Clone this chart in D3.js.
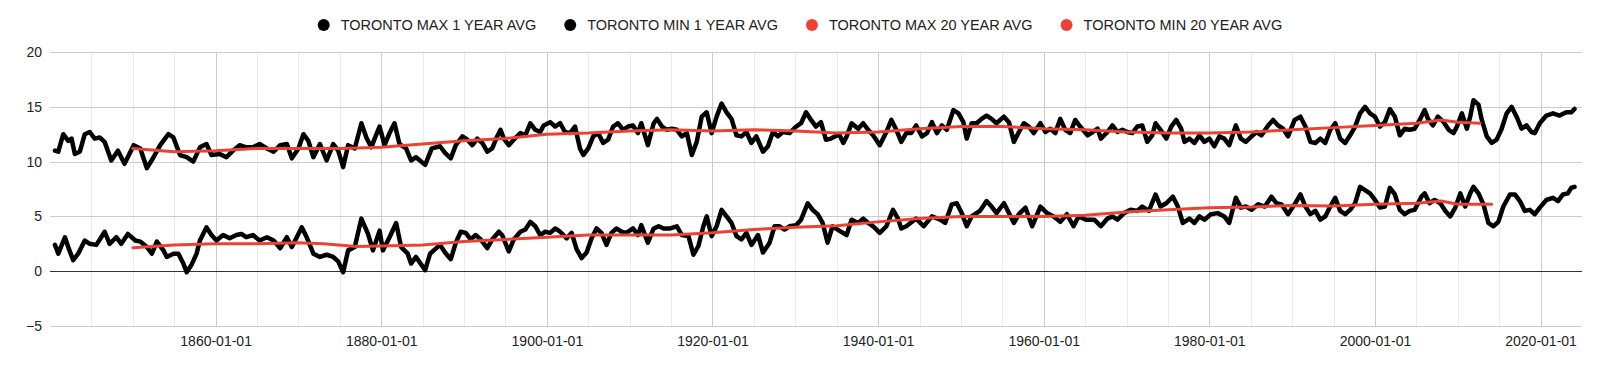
<!DOCTYPE html>
<html>
<head>
<meta charset="utf-8">
<script src="https://cdn.jsdelivr.net/npm/d3@7"></script>
<style>
  body { margin: 0; background: #fff; }
  svg { display: block; font-family: Arial, 'Liberation Sans', sans-serif; }
</style>
</head>
<body>
<svg id="chart" width="1600" height="366"></svg>
<script>
// [decimal year, degrees C]
const torontoMax1Year = [
  [1840.6,11.0],[1841.0,10.9],[1841.6,12.5],[1842.2,11.9],[1842.6,12.1],[1843.0,10.7],[1843.6,10.9],[1844.2,12.5],
  [1844.8,12.7],[1845.4,12.1],[1846.0,12.2],[1846.6,11.8],[1847.4,10.1],[1848.2,11.0],[1849.0,9.8],[1850.1,11.5],
  [1850.9,11.2],[1851.7,9.4],[1852.5,10.4],[1853.3,11.5],[1854.3,12.5],[1854.9,12.2],[1855.7,10.6],[1856.5,10.4],
  [1857.3,10.0],[1858.1,11.3],[1858.9,11.6],[1859.5,10.6],[1860.5,10.7],[1861.3,10.4],[1862.1,11.0],[1862.9,11.5],
  [1863.7,11.3],[1864.5,11.3],[1865.3,11.6],[1866.2,11.2],[1867.0,10.9],[1867.8,11.5],[1868.6,11.6],[1869.2,10.3],
  [1870.0,11.2],[1870.6,12.5],[1871.2,11.9],[1871.8,10.4],[1872.6,11.6],[1873.4,10.1],[1874.2,11.6],[1874.8,11.0],
  [1875.4,9.5],[1876.0,11.5],[1876.8,11.2],[1877.6,13.5],[1878.2,12.2],[1878.8,11.3],[1879.2,12.1],[1879.8,13.2],
  [1880.4,11.5],[1881.0,12.6],[1881.6,13.5],[1882.2,11.6],[1883.0,11.2],[1883.6,10.1],[1884.2,10.4],[1885.3,9.7],
  [1886.1,11.2],[1887.1,11.4],[1887.7,10.8],[1888.4,10.3],[1889.0,11.5],[1889.8,12.3],[1890.4,12.0],[1891.0,11.5],
  [1891.6,12.1],[1892.2,11.7],[1892.8,10.9],[1893.4,11.2],[1894.0,12.3],[1894.4,12.9],[1894.8,12.1],[1895.4,11.5],
  [1896.0,12.0],[1896.8,12.6],[1897.4,12.4],[1898.0,13.5],[1898.6,12.9],[1899.2,12.7],[1899.6,13.3],[1900.4,13.6],
  [1901.0,13.2],[1901.6,13.5],[1902.2,12.7],[1902.8,12.6],[1903.4,13.2],[1904.0,11.2],[1904.4,10.6],[1905.0,11.2],
  [1905.6,12.3],[1906.2,12.6],[1906.8,11.7],[1907.4,12.0],[1908.0,13.2],[1908.6,13.5],[1909.2,12.9],[1909.8,13.2],
  [1910.4,13.3],[1911.0,12.6],[1911.4,13.5],[1912.2,11.5],[1912.9,13.5],[1913.3,13.9],[1913.9,13.2],[1914.5,12.9],
  [1915.1,13.0],[1915.7,12.9],[1916.3,12.3],[1916.9,12.6],[1917.5,10.6],[1918.1,11.8],[1918.7,14.1],[1919.3,14.5],
  [1919.9,12.6],[1920.5,14.1],[1921.1,15.3],[1921.7,14.5],[1922.3,13.9],[1922.9,12.4],[1923.5,12.3],[1924.1,12.7],
  [1924.7,11.7],[1925.3,12.3],[1926.1,10.9],[1926.7,11.4],[1927.3,12.7],[1927.9,12.3],[1928.5,12.7],[1929.3,12.6],
  [1930.1,13.2],[1930.7,13.5],[1931.3,14.5],[1931.9,13.8],[1932.5,13.2],[1933.1,13.6],[1933.7,12.0],[1934.3,12.1],
  [1935.3,12.5],[1935.8,11.7],[1936.2,12.3],[1936.8,13.5],[1937.6,13.0],[1938.2,13.5],[1938.8,12.9],[1939.4,12.4],
  [1940.2,11.5],[1941.0,12.7],[1941.6,13.8],[1942.2,12.9],[1942.8,11.8],[1943.4,12.6],[1944.0,12.6],[1944.6,13.3],
  [1945.3,12.3],[1945.9,12.6],[1946.5,13.6],[1947.1,12.6],[1947.7,13.3],[1948.3,12.9],[1949.1,14.7],[1949.7,14.4],
  [1950.3,13.6],[1950.7,12.1],[1951.3,13.5],[1951.9,13.5],[1952.5,13.9],[1953.1,14.2],[1953.7,13.9],[1954.3,13.5],
  [1955.2,14.1],[1955.8,13.6],[1956.4,11.8],[1957.0,12.7],[1957.6,13.5],[1958.2,13.2],[1958.8,12.6],[1959.6,13.5],
  [1960.2,12.7],[1960.8,13.0],[1961.4,12.6],[1962.0,13.9],[1962.6,12.9],[1963.2,12.6],[1963.8,13.8],[1964.4,13.2],
  [1965.3,12.4],[1965.9,12.7],[1966.5,13.0],[1966.9,12.1],[1967.7,12.7],[1968.3,13.3],[1968.9,12.7],[1969.5,12.9],
  [1970.1,12.7],[1970.7,12.6],[1971.3,13.2],[1971.9,13.3],[1972.5,11.8],[1973.1,12.4],[1973.5,13.5],[1974.1,12.9],
  [1974.8,12.1],[1975.4,13.2],[1976.0,13.8],[1976.6,13.0],[1977.0,11.8],[1977.6,12.1],[1978.2,11.7],[1978.8,12.4],
  [1979.4,11.8],[1980.0,12.1],[1980.6,11.4],[1981.2,12.3],[1981.8,12.1],[1982.4,11.5],[1983.2,13.3],[1983.8,12.1],
  [1984.4,11.8],[1985.1,12.3],[1985.7,12.7],[1986.3,12.4],[1987.1,13.3],[1987.7,13.8],[1988.3,13.3],[1988.9,13.0],
  [1989.5,12.3],[1990.3,13.8],[1991.0,14.1],[1991.6,13.2],[1992.2,11.8],[1992.8,11.7],[1993.4,12.1],[1994.0,11.7],
  [1994.6,12.9],[1995.2,13.5],[1995.8,12.1],[1996.4,11.7],[1997.0,12.4],[1997.6,13.2],[1998.2,14.4],[1998.8,15.0],
  [1999.4,14.4],[2000.0,14.1],[2000.6,13.2],[2001.2,13.6],[2001.8,14.8],[2002.4,14.1],[2003.0,12.4],[2003.6,13.0],
  [2004.2,12.9],[2004.8,13.0],[2005.4,13.8],[2006.0,14.7],[2006.4,13.9],[2007.0,13.3],[2007.6,14.1],[2008.3,13.6],
  [2008.9,12.9],[2009.5,12.6],[2009.9,13.2],[2010.5,14.4],[2011.1,13.0],[2011.5,14.1],[2011.9,15.6],[2012.5,15.2],
  [2012.9,13.8],[2013.5,12.3],[2014.1,11.7],[2014.7,12.0],[2015.3,13.0],[2015.9,14.4],[2016.5,15.0],[2017.1,14.1],
  [2017.7,13.0],[2018.3,13.3],[2018.9,12.7],[2019.3,12.6],[2019.9,13.5],[2020.7,14.2],[2021.5,14.4],[2022.3,14.2],
  [2023.1,14.5],[2023.7,14.5],[2024.1,14.8]
];

const torontoMin1Year = [
  [1840.6,2.4],[1841.0,1.6],[1841.8,3.1],[1842.2,2.2],[1842.8,1.0],[1843.4,1.6],[1844.2,2.8],[1844.8,2.5],
  [1845.6,2.4],[1846.6,3.6],[1847.2,2.5],[1848.0,3.1],[1848.6,2.5],[1849.4,3.4],[1850.3,2.8],[1850.9,2.7],
  [1851.7,2.2],[1852.3,1.6],[1852.9,2.7],[1853.7,1.9],[1854.1,1.3],[1854.9,1.6],[1855.5,1.6],[1856.1,0.7],
  [1856.5,-0.1],[1857.1,0.6],[1857.7,1.6],[1858.1,2.8],[1858.9,4.0],[1859.5,3.3],[1860.1,2.8],[1860.9,3.3],
  [1861.7,3.0],[1862.5,3.3],[1863.1,3.4],[1863.7,3.1],[1864.5,3.3],[1865.3,2.8],[1866.2,3.1],[1867.0,2.8],
  [1867.8,2.1],[1868.6,3.1],[1869.2,2.2],[1869.8,3.1],[1870.4,4.0],[1871.0,3.1],[1871.8,1.6],[1872.6,1.3],
  [1873.4,1.5],[1874.2,1.3],[1874.8,0.9],[1875.4,-0.1],[1876.0,1.9],[1876.8,2.2],[1877.6,4.8],[1878.4,3.4],
  [1879.0,1.9],[1879.8,3.7],[1880.2,1.9],[1881.0,3.1],[1881.8,4.4],[1882.4,2.2],[1883.2,1.6],[1883.6,0.7],
  [1884.2,1.3],[1885.3,0.1],[1885.9,1.6],[1887.1,2.4],[1887.7,1.7],[1888.4,1.1],[1889.0,2.6],[1889.6,3.6],
  [1890.2,3.5],[1890.8,2.9],[1891.4,3.3],[1892.0,2.9],[1892.8,2.1],[1893.4,2.9],[1894.2,3.6],[1894.6,3.3],
  [1895.4,1.8],[1896.0,2.9],[1896.8,3.6],[1897.4,3.8],[1898.0,4.5],[1898.6,4.1],[1899.2,3.3],[1899.8,3.6],
  [1900.4,3.5],[1901.0,3.9],[1901.6,3.6],[1902.4,3.0],[1903.0,3.5],[1903.6,2.0],[1904.2,1.2],[1904.8,1.7],
  [1905.4,3.0],[1906.0,3.9],[1906.6,3.5],[1907.2,2.4],[1907.8,3.5],[1908.4,3.9],[1909.0,3.6],[1909.6,3.5],
  [1910.4,3.9],[1911.0,3.3],[1911.4,4.2],[1912.2,2.6],[1912.9,3.9],[1913.5,4.1],[1914.1,3.9],[1914.9,3.9],
  [1915.7,4.1],[1916.3,3.3],[1917.1,3.2],[1917.7,1.5],[1918.3,2.3],[1918.9,4.1],[1919.3,5.0],[1919.9,3.2],
  [1920.5,4.1],[1921.1,5.6],[1921.7,5.0],[1922.3,4.4],[1922.9,3.2],[1923.5,2.9],[1924.1,3.5],[1924.7,2.4],
  [1925.5,3.3],[1926.1,1.7],[1926.9,2.6],[1927.5,4.1],[1928.1,4.1],[1928.7,3.8],[1929.3,4.1],[1930.1,4.2],
  [1930.7,4.7],[1931.5,6.2],[1932.1,5.6],[1932.7,5.2],[1933.3,4.4],[1933.9,2.6],[1934.5,4.1],[1935.3,3.7],
  [1936.2,3.3],[1936.8,4.7],[1937.6,4.4],[1938.2,4.8],[1938.8,4.4],[1939.4,4.1],[1940.2,3.5],[1941.0,4.1],
  [1941.8,5.6],[1942.4,4.8],[1942.8,3.9],[1943.4,4.1],[1944.6,4.8],[1945.5,4.1],[1946.5,5.0],[1947.5,4.7],
  [1948.1,4.4],[1948.9,6.1],[1949.5,6.2],[1950.1,5.3],[1950.7,4.1],[1951.3,5.0],[1952.3,5.5],[1953.1,6.4],
  [1953.7,5.9],[1954.3,5.3],[1955.2,6.2],[1955.8,5.3],[1956.4,4.4],[1957.0,5.2],[1957.8,5.8],[1958.6,4.1],
  [1959.6,5.9],[1960.4,5.3],[1961.2,5.0],[1962.0,4.5],[1962.8,5.2],[1963.6,4.1],[1964.2,5.0],[1965.1,4.7],
  [1966.1,4.7],[1966.9,4.1],[1967.7,4.8],[1968.3,5.0],[1968.9,4.7],[1969.7,5.3],[1970.5,5.6],[1971.3,5.5],
  [1971.9,5.9],[1972.7,5.5],[1973.5,7.0],[1974.1,5.9],[1974.8,6.2],[1975.6,6.8],[1976.2,5.9],[1976.8,4.4],
  [1977.6,4.8],[1978.2,4.4],[1978.8,5.0],[1979.4,4.7],[1980.2,5.2],[1981.0,5.3],[1981.8,5.0],[1982.4,4.4],
  [1983.2,6.7],[1983.8,5.8],[1984.4,5.9],[1985.1,5.6],[1985.9,6.1],[1986.7,5.9],[1987.5,6.8],[1988.1,6.2],
  [1988.7,6.1],[1989.5,5.2],[1990.3,6.1],[1991.0,7.0],[1991.6,5.9],[1992.2,5.2],[1992.8,5.5],[1993.4,4.7],
  [1994.0,5.0],[1994.6,5.9],[1995.2,6.7],[1995.8,5.5],[1996.4,5.2],[1997.0,5.6],[1997.6,6.2],[1998.2,7.7],
  [1998.8,7.4],[1999.4,7.1],[2000.0,6.5],[2000.6,5.8],[2001.2,5.9],[2001.8,7.6],[2002.4,7.0],[2003.0,5.6],
  [2003.6,5.2],[2004.2,5.5],[2004.8,5.6],[2005.6,6.8],[2006.0,7.1],[2006.6,6.2],[2007.2,6.5],[2007.9,6.2],
  [2008.5,5.5],[2009.1,5.0],[2009.7,5.8],[2010.3,7.1],[2010.9,5.9],[2011.5,7.1],[2011.9,7.7],[2012.5,7.1],
  [2013.1,6.1],[2013.7,4.4],[2014.3,4.1],[2014.9,4.5],[2015.5,5.9],[2016.3,7.0],[2016.9,7.0],[2017.5,6.4],
  [2018.1,5.5],[2018.7,5.6],[2019.3,5.2],[2019.9,5.8],[2020.7,6.5],[2021.5,6.7],[2022.1,6.4],[2022.7,7.0],
  [2023.3,7.1],[2023.7,7.6],[2024.1,7.7]
];

const torontoMax20Year = [
  [1850,11.2],[1855,10.9],[1860,11.0],[1865,11.2],[1870,11.2],[1875,11.2],[1880,11.3],[1885,11.6],
  [1890,11.9],[1895,12.1],[1900,12.5],[1905,12.6],[1910,12.8],[1915,12.9],[1920,12.8],[1925,12.9],
  [1930,12.8],[1935,12.6],[1940,12.7],[1945,13.0],[1950,13.2],[1955,13.2],[1960,13.0],[1965,12.9],
  [1970,12.7],[1975,12.6],[1980,12.6],[1985,12.7],[1990,12.9],[1995,13.1],[2000,13.3],[2005,13.5],
  [2008,13.8],[2010,13.6],[2012.7,13.5]
];

const torontoMin20Year = [
  [1850,2.15],[1855,2.4],[1860,2.5],[1865,2.5],[1870,2.6],[1873,2.5],[1877,2.25],[1880,2.3],
  [1885,2.4],[1890,2.7],[1895,2.9],[1900,3.1],[1905,3.3],[1910,3.3],[1915,3.3],[1920,3.5],
  [1925,3.8],[1930,4.0],[1935,4.15],[1940,4.5],[1945,4.8],[1950,5.0],[1955,5.0],[1960,5.0],
  [1965,5.1],[1970,5.4],[1975,5.6],[1980,5.8],[1985,5.85],[1990,6.0],[1995,5.95],[2000,6.1],
  [2005,6.2],[2008,6.4],[2010,6.1],[2014.1,6.1]
];

const seriesNames = ['TORONTO MAX 1 YEAR AVG', 'TORONTO MIN 1 YEAR AVG', 'TORONTO MAX 20 YEAR AVG', 'TORONTO MIN 20 YEAR AVG'];
const seriesColors = ['#000000', '#000000', '#ea4335', '#ea4335'];
const yTicks = [-5, 0, 5, 10, 15, 20];
const xLabelYears = [1860, 1880, 1900, 1920, 1940, 1960, 1980, 2000, 2020];
const xDomainYears = [1840, 2025];

function yearToDate(y) {
  let yr = Math.floor(y);
  let start = Date.UTC(yr, 0, 1);
  let end = Date.UTC(yr + 1, 0, 1);
  return new Date(start + (y - yr) * (end - start));
}

const svg = d3.select('#chart');
const plot = { left: 50, right: 1582, top: 52, bottom: 326 };

svg.append('rect').attr('width', 1600).attr('height', 366).attr('fill', '#fff');

const x = d3.scaleUtc()
  .domain(xDomainYears.map(yearToDate))
  .range([plot.left, plot.right]);
const y = d3.scaleLinear()
  .domain([d3.min(yTicks), d3.max(yTicks)])
  .range([plot.bottom, plot.top]);

// vertical gridlines: every 5 years, darker every 20
let gridYears = d3.range(1845, 2025, 5);
svg.append('g')
  .selectAll('line')
  .data(gridYears)
  .join('line')
  .attr('x1', d => Math.round(x(yearToDate(d))) + 0.5)
  .attr('x2', d => Math.round(x(yearToDate(d))) + 0.5)
  .attr('y1', plot.top)
  .attr('y2', plot.bottom)
  .attr('stroke', d => d % 20 === 0 ? '#cccccc' : '#ebebeb')
  .attr('stroke-width', 1);

// horizontal gridlines
svg.append('g')
  .selectAll('line')
  .data(yTicks)
  .join('line')
  .attr('x1', plot.left)
  .attr('x2', plot.right)
  .attr('y1', d => Math.round(y(d)) + 0.5)
  .attr('y2', d => Math.round(y(d)) + 0.5)
  .attr('stroke', d => d === 0 ? '#333333' : '#cccccc')
  .attr('stroke-width', 1);

// axes (labels only)
const xAxis = d3.axisBottom(x)
  .tickValues(xLabelYears.map(yearToDate))
  .tickFormat(d3.utcFormat('%Y-%m-%d'))
  .tickSize(0)
  .tickPadding(10);
svg.append('g')
  .attr('transform', 'translate(0,' + plot.bottom + ')')
  .call(xAxis)
  .call(g => g.select('.domain').remove())
  .selectAll('text')
  .attr('font-size', 14)
  .attr('font-family', 'Arial, Liberation Sans, sans-serif')
  .attr('fill', '#222');

const yAxis = d3.axisLeft(y)
  .tickValues(yTicks)
  .tickSize(0)
  .tickPadding(8);
svg.append('g')
  .attr('transform', 'translate(' + plot.left + ',0)')
  .call(yAxis)
  .call(g => g.select('.domain').remove())
  .selectAll('text')
  .attr('font-size', 14)
  .attr('font-family', 'Arial, Liberation Sans, sans-serif')
  .attr('fill', '#222');

// series
const line = d3.line()
  .x(d => x(yearToDate(d[0])))
  .y(d => y(d[1]));

const series = [torontoMax1Year, torontoMin1Year, torontoMax20Year, torontoMin20Year];
const widths = [4.5, 4.5, 3, 3];
svg.append('g')
  .selectAll('path')
  .data(series)
  .join('path')
  .attr('d', line)
  .attr('fill', 'none')
  .attr('stroke', (d, i) => seriesColors[i])
  .attr('stroke-width', (d, i) => widths[i])
  .attr('stroke-linejoin', 'round')
  .attr('stroke-linecap', 'round');

// legend, centred over the page
const legend = svg.append('g');
let items = legend.selectAll('g')
  .data(seriesNames)
  .join('g');
items.append('circle')
  .attr('r', 6)
  .attr('cy', 25)
  .attr('fill', (d, i) => seriesColors[i]);
items.append('text')
  .attr('x', 17)
  .attr('y', 30)
  .attr('font-size', 14.5)
  .attr('fill', '#222')
  .text(d => d);

let cursor = 0;
items.each(function () {
  let g = d3.select(this);
  let w = g.select('text').node().getComputedTextLength();
  g.attr('transform', 'translate(' + cursor + ',0)');
  cursor += 17 + w + 34;
});
let total = cursor - 34 + 6;
legend.attr('transform', 'translate(' + (800 - total / 2 + 6) + ',0)');
</script>
</body>
</html>
